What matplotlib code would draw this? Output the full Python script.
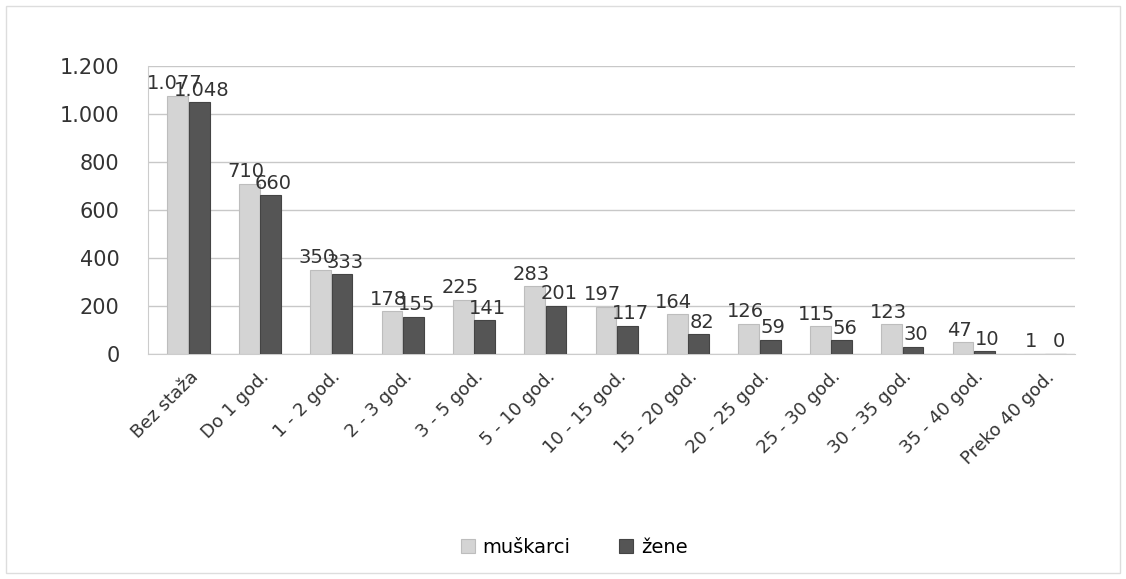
import matplotlib.pyplot as plt
import numpy as np

categories = ['Bez staža', 'Do 1 god.', '1 - 2 god.', '2 - 3 god.', '3 - 5 god.',
              '5 - 10 god.', '10 - 15 god.', '15 - 20 god.', '20 - 25 god.',
              '25 - 30 god.', '30 - 35 god.', '35 - 40 god.', 'Preko 40 god.']
muskarci = [1077, 710, 350, 178, 225, 283, 197, 164, 126, 115, 123, 47, 1]
zene = [1048, 660, 333, 155, 141, 201, 117, 82, 59, 56, 30, 10, 0]
yticks = [0, 200, 400, 600, 800, 1000, 1200]


def fmt(v):
    # tisućice s točkom
    return '{:,}'.format(v).replace(',', '.')


fig = plt.figure(figsize=(11.26, 5.79), dpi=100)
ax = fig.add_axes([0.131, 0.389, 0.824, 0.497])

x = np.arange(len(categories))
w = 0.29
ax.bar(x - w / 2 + 0.07, muskarci, w, color='#d4d4d4', edgecolor='#bdbdbd',
       linewidth=0.8, label='muškarci', zorder=3)
ax.bar(x + w / 2 + 0.08, zene, w, color='#555555', edgecolor='#444444',
       linewidth=0.8, label='žene', zorder=3)

for i in range(len(categories)):
    ax.text(x[i] - w / 2 + 0.02, muskarci[i] + 10, fmt(muskarci[i]), ha='center',
            va='bottom', fontsize=14, color='#333333', zorder=4)
    ax.text(x[i] + w / 2 + 0.12, zene[i] + 10, fmt(zene[i]), ha='center',
            va='bottom', fontsize=14, color='#333333', zorder=4)

ax.set_xlim(-0.5, len(categories) - 0.5)
ax.set_ylim(0, 1200)
ax.set_yticks(yticks)
ax.set_yticklabels([fmt(v) for v in yticks], fontsize=15, color='#333333')
ax.set_xticks(x + 0.08)
ax.set_xticklabels(categories, rotation=45, ha='right', rotation_mode='anchor',
                   fontsize=13, color='#333333')
ax.tick_params(axis='y', length=0, pad=20)
ax.tick_params(axis='x', length=0, pad=10)
ax.grid(axis='y', color='#c8c8c8', linewidth=1, zorder=0)
for s in ['top', 'right']:
    ax.spines[s].set_visible(False)
ax.spines['left'].set_color('#cccccc')
ax.spines['bottom'].set_color('#cccccc')

fig.legend(loc='center', bbox_to_anchor=(0.51, 0.055), ncol=2, frameon=False,
           fontsize=14, handlelength=0.7, handleheight=0.7, columnspacing=2.5,
           handletextpad=0.4)

fig.patches.append(plt.Rectangle((0.005, 0.01), 0.99, 0.98, transform=fig.transFigure,
                                 fill=False, edgecolor='#dddddd', linewidth=1))

fig.savefig('out.png', dpi=100)
